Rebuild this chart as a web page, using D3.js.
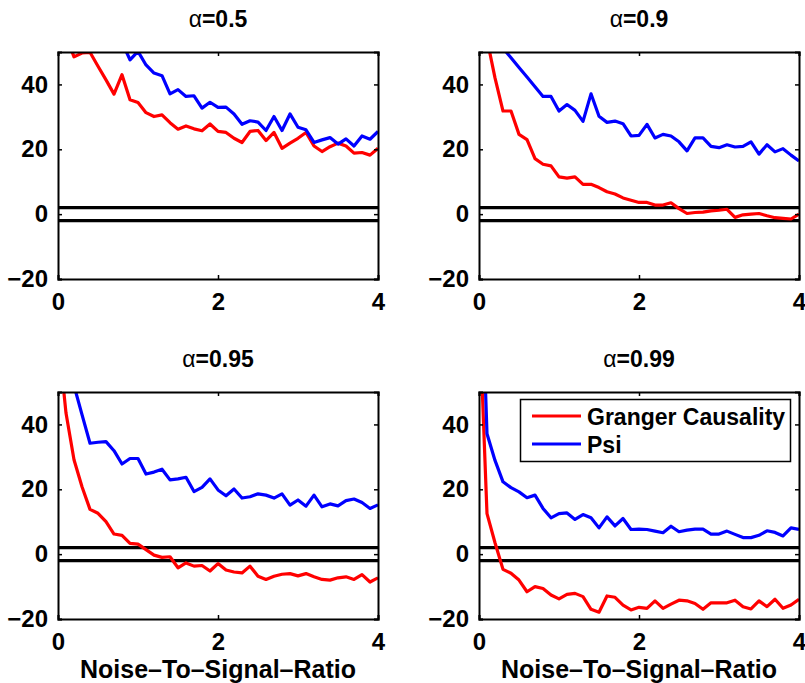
<!DOCTYPE html>
<html>
<head>
<meta charset="utf-8">
<script src="https://cdn.jsdelivr.net/npm/d3@7"></script>
<style>
  body { margin: 0; background: #fff; }
  text { font-family: "Liberation Sans", Arial, sans-serif; font-weight: bold; fill: #000; }
</style>
</head>
<body>
<svg width="805" height="683"></svg>
<script>
var noiseRatio = [0, 0.1, 0.2, 0.3, 0.4, 0.5, 0.6, 0.7, 0.8, 0.9,
		  1, 1.1, 1.2, 1.3, 1.4, 1.5, 1.6, 1.7, 1.8, 1.9,
		  2, 2.1, 2.2, 2.3, 2.4, 2.5, 2.6, 2.7, 2.8, 2.9,
		  3, 3.1, 3.2, 3.3, 3.4, 3.5, 3.6, 3.7, 3.8, 3.9, 4];

var alphas = ["0.5", "0.9", "0.95", "0.99"];

var granger05 = [60, 55, 48.5, 49.7, 49.9, 45.6, 41.4, 37, 43, 35.3,
		 34.4, 31.3, 30.1, 30.6, 28.2, 26.2, 27.2, 26.3, 25.7, 27.8,
		 25.5, 25.2, 23.4, 22.1, 25.5, 25.8, 22.7, 25.2, 20.3, 21.9,
		 23.4, 25.2, 21, 19.3, 20.8, 21.9, 21, 18.8, 19, 18.2, 20.3];
var psi05 = [90, 80, 72, 66, 61, 58, 56, 54, 53, 47.6,
	     50.2, 46, 43.5, 42.7, 37.1, 38.4, 36.3, 36.5, 32.7, 34.5,
	     32.9, 33, 30.9, 27.7, 28.8, 28.4, 25.8, 30.1, 25.8, 30.9,
	     26.8, 26, 22.1, 22.9, 23.6, 21.6, 23.2, 21, 24.1, 23.1, 25.5];

var granger09 = [75, 54, 42, 31.8, 31.8, 24.6, 23, 17.1, 15.4, 14.9,
		 11.5, 11.1, 11.5, 9.2, 9.2, 8.2, 6.9, 6.2, 5, 4.3,
		 3.6, 3.6, 2.8, 2.8, 3.5, 1.7, 0.2, 0.5, 0.6, 1,
		 1.2, 1.5, -1, -0.2, 0, 0.2, -0.5, -1.1, -1.3, -1.5, 0];
var psi09 = [70, 60, 55, 51.2, 48.2, 45.2, 42.3, 39.3, 36.3, 36.3,
	     31.8, 33.8, 32, 28.6, 37.1, 30.2, 28.3, 28.7, 27.9, 24.1,
	     24.3, 27.7, 23.5, 24.6, 24.1, 22.3, 19.5, 23.5, 23.5, 20.9,
	     20.5, 21.4, 20.7, 20.9, 22.3, 18.5, 21.4, 19.2, 20.2, 18.2, 16.4];

var granger095 = [67.6, 43.5, 29.1, 20.8, 13.8, 12.6, 10, 6.2, 5.8, 3.3,
		  3.1, 1.4, -0.3, -1, -0.8, -4.2, -2.7, -3.7, -3.5, -5.2,
		  -2.9, -4.9, -5.5, -5.8, -3.7, -6.8, -7.8, -6.8, -6.2, -6,
		  -6.7, -6, -7, -7.8, -8, -7.3, -7, -7.8, -6.3, -8.6, -7.3];
var psi095 = [80, 62, 52, 43, 34.2, 34.5, 34.7, 31.9, 27.8, 29.5,
	      29.5, 24.7, 25.3, 26.2, 22.9, 23.2, 23.7, 19.3, 20.6, 23.2,
	      19.8, 18, 20.1, 17.3, 17.7, 18.6, 18.2, 17.3, 18.6, 15.1,
	      16.7, 14.8, 18.2, 14.6, 15.5, 14.9, 16.5, 17, 15.9, 14.1, 15.2];

var granger099 = [77, 12.5, 3.5, -4.7, -5.9, -8, -11.6, -10, -10.6, -12.6,
		  -13.8, -12.4, -12.1, -13.1, -17, -17.9, -12.9, -13.3, -15.7, -17.2,
		  -16.4, -16.7, -14.4, -16.7, -15.4, -14.2, -14.4, -15.2, -17, -15,
		  -15, -15, -14.2, -16.2, -16.9, -14.4, -16.2, -13.9, -16.7, -15.7, -13.9];
var psi099 = [110, 37.1, 28.9, 22.3, 20.5, 19.2, 17.4, 18.2, 14.1, 11.2,
	      12.5, 12.7, 10.7, 12.2, 11.2, 8.1, 11.5, 8.7, 11, 7.6,
	      7.7, 7.6, 7.1, 6.6, 8.6, 6.9, 7.4, 7.7, 7.7, 6.2,
	      6.2, 7.1, 6.1, 5.1, 5.1, 5.8, 7.2, 6.7, 5.6, 8.1, 7.6];

var thresholds = [2, -2];
var xTicks = [0, 2, 4];
var yTicks = [-20, 0, 20, 40];
var seriesNames = ["Granger Causality", "Psi"];

var grangerAll = [granger05, granger09, granger095, granger099];
var psiAll = [psi05, psi09, psi095, psi099];

var svg = d3.select("svg");
svg.append("rect").attr("width", 805).attr("height", 683).attr("fill", "#fff");

var panelW = 320, panelH = 227;
var origins = [[58, 52], [479, 52], [58, 392], [479, 392]];

function drawPanel(idx) {
    var ox = origins[idx][0], oy = origins[idx][1];
    var g = svg.append("g").attr("transform", "translate(" + ox + "," + oy + ")");
    var x = d3.scaleLinear().domain([0, 4]).range([0, panelW]);
    var y = d3.scaleLinear().domain([-20, 50]).range([panelH, 0]);

    g.append("clipPath").attr("id", "clip" + idx)
	.append("rect").attr("width", panelW).attr("height", panelH);

    var plot = g.append("g").attr("clip-path", "url(#clip" + idx + ")");

    thresholds.forEach(function(t) {
	plot.append("line")
	    .attr("x1", 0).attr("x2", panelW)
	    .attr("y1", y(t)).attr("y2", y(t))
	    .attr("stroke", "#000").attr("stroke-width", 3.2);
    });

    var line = d3.line()
	.x(function(d, i) { return x(noiseRatio[i]); })
	.y(function(d) { return y(d); });

    plot.append("path").datum(grangerAll[idx])
	.attr("d", line).attr("fill", "none")
	.attr("stroke", "#ff0000").attr("stroke-width", 3.2)
	.attr("stroke-linejoin", "round");
    plot.append("path").datum(psiAll[idx])
	.attr("d", line).attr("fill", "none")
	.attr("stroke", "#0000ff").attr("stroke-width", 3.2)
	.attr("stroke-linejoin", "round");

    // MATLAB style box with inward ticks on all sides
    var tl = 4;
    g.append("g").attr("transform", "translate(0," + panelH + ")")
	.call(d3.axisBottom(x).tickValues(xTicks).tickSize(-tl).tickPadding(tl + 10).tickFormat(d3.format("d")));
    g.append("g")
	.call(d3.axisTop(x).tickValues(xTicks).tickSize(-tl).tickFormat(""));
    g.append("g")
	.call(d3.axisLeft(y).tickValues(yTicks).tickSize(-tl).tickPadding(tl + 6)
	      .tickFormat(function(d) { return d < 0 ? "\u2212" + Math.abs(d) : d; }));
    g.append("g").attr("transform", "translate(" + panelW + ",0)")
	.call(d3.axisRight(y).tickValues(yTicks).tickSize(-tl).tickFormat(""));

    g.selectAll(".domain").attr("stroke", "#000").attr("stroke-width", 2);
    g.selectAll(".tick line").attr("stroke", "#000").attr("stroke-width", 1.5);
    g.selectAll(".tick text").attr("font-size", 24).attr("font-family", null);

    var title = g.append("text")
	.attr("x", panelW / 2).attr("y", -25)
	.attr("text-anchor", "middle").attr("font-size", 23);
    title.append("tspan").attr("font-weight", "normal").text("\u03b1");
    title.append("tspan").text("=" + alphas[idx]);

    if (idx >= 2) {
	g.append("text")
	    .attr("x", panelW / 2).attr("y", panelH + 59)
	    .attr("text-anchor", "middle").attr("font-size", 25)
	    .text("Noise\u2013To\u2013Signal\u2013Ratio");
    }
    return g;
}

for (var i = 0; i < 4; i++) drawPanel(i);

// legend in last panel
var leg = svg.append("g");
leg.append("rect")
    .attr("x", 520.5).attr("y", 399.5).attr("width", 270).attr("height", 62)
    .attr("fill", "#fff").attr("stroke", "#000").attr("stroke-width", 1.5);
var legColors = ["#ff0000", "#0000ff"];
for (var i = 0; i < seriesNames.length; i++) {
    leg.append("line")
	.attr("x1", 532).attr("x2", 581)
	.attr("y1", 416 + i * 28).attr("y2", 416 + i * 28)
	.attr("stroke", legColors[i]).attr("stroke-width", 3.2);
    leg.append("text")
	.attr("x", 587).attr("y", 425 + i * 28)
	.attr("font-size", 23)
	.text(seriesNames[i]);
}
</script>
</body>
</html>
